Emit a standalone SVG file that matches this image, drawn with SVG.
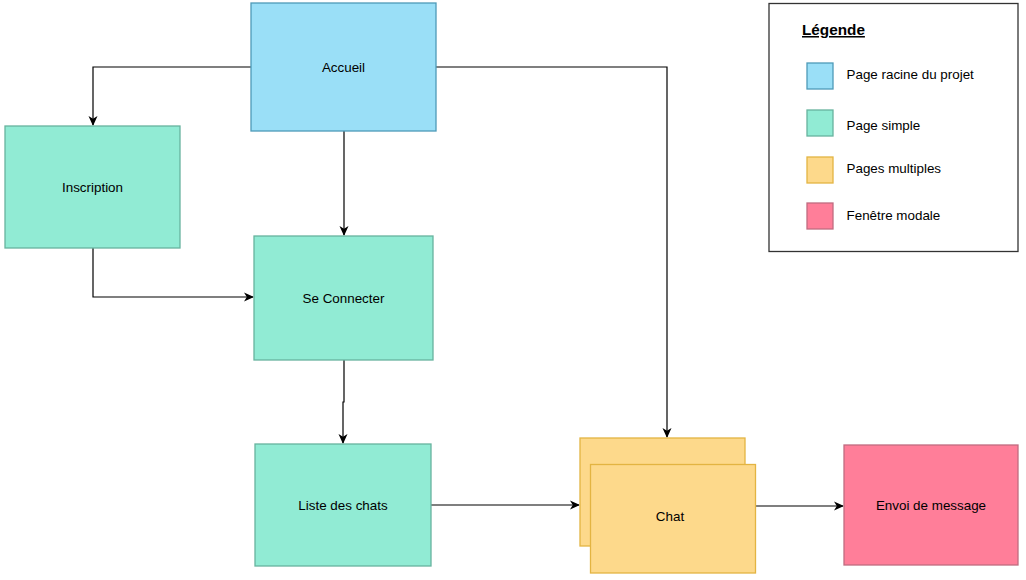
<svg xmlns="http://www.w3.org/2000/svg" width="1026" height="580" viewBox="0 0 1026 580">
  <style>
    .lbl { font-family: "Liberation Sans", Arial, sans-serif; font-size: 13.4px; fill: #000; }
    .mid { text-anchor: middle; dominant-baseline: central; }
    .root { fill: #9ADFF7; stroke: #4E9AB8; stroke-width: 1.3; }
    .simple { fill: #91EBD4; stroke: #67B39E; stroke-width: 1.3; }
    .multi { fill: #FDD98B; stroke: #E3B442; stroke-width: 1.3; }
    .modal { fill: #FF7E99; stroke: #C06C80; stroke-width: 1.3; }
    .edge { fill: none; stroke: #000; stroke-width: 1.2; marker-end: url(#arrow); }
  </style>
  <defs>
    <marker id="arrow" viewBox="0 0 10 10" refX="9" refY="5" markerWidth="10" markerHeight="10" markerUnits="userSpaceOnUse" orient="auto">
      <path d="M0,0.5 L10,5 L0,9.5 L2.8,5 Z" fill="#000"/>
    </marker>
  </defs>
  <rect width="1026" height="580" fill="#fff"/>

  <g id="connectors">
    <path class="edge" d="M251,67 H93 V125"/>
    <path class="edge" d="M344,131 V235"/>
    <path class="edge" d="M436,67 H667 V437"/>
    <path class="edge" d="M93,248 V297 H253"/>
    <path class="edge" d="M344,360 V402 H343 V443"/>
    <path class="edge" d="M431,505 H579"/>
    <path class="edge" d="M755,506 H843"/>
  </g>

  <g id="accueil">
    <rect class="root" x="251" y="3" width="185" height="128"/>
    <text class="lbl mid" x="343.5" y="67">Accueil</text>
  </g>
  <g id="inscription">
    <rect class="simple" x="5" y="126" width="175" height="122"/>
    <text class="lbl mid" x="92.5" y="187">Inscription</text>
  </g>
  <g id="se-connecter">
    <rect class="simple" x="254" y="236" width="179" height="124"/>
    <text class="lbl mid" x="343.5" y="298">Se Connecter</text>
  </g>
  <g id="liste-des-chats">
    <rect class="simple" x="255" y="444" width="176" height="122"/>
    <text class="lbl mid" x="343" y="505">Liste des chats</text>
  </g>
  <g id="chat">
    <rect class="multi" x="580" y="438" width="165" height="108"/>
    <rect class="multi" x="590.5" y="464.5" width="165" height="108.5"/>
    <text class="lbl mid" x="670" y="516">Chat</text>
  </g>
  <g id="envoi-de-message">
    <rect class="modal" x="844" y="445" width="174" height="120"/>
    <text class="lbl mid" x="931" y="505">Envoi de message</text>
  </g>

  <g id="legende">
    <rect x="769" y="3.5" width="249" height="248" fill="#fff" stroke="#333" stroke-width="1.3"/>
    <text x="802" y="35" font-family="'Liberation Sans', Arial, sans-serif" font-size="15.3" font-weight="bold" text-decoration="underline">Légende</text>
    <rect class="root" x="807" y="63" width="26" height="26"/>
    <text class="lbl" x="846.5" y="78.5">Page racine du projet</text>
    <rect class="simple" x="807" y="110" width="26" height="26"/>
    <text class="lbl" x="846.5" y="129.5">Page simple</text>
    <rect class="multi" x="807" y="157" width="26" height="26"/>
    <text class="lbl" x="846.5" y="172.5">Pages multiples</text>
    <rect class="modal" x="807" y="203" width="26" height="26"/>
    <text class="lbl" x="846.5" y="219.5">Fenêtre modale</text>
  </g>
</svg>
